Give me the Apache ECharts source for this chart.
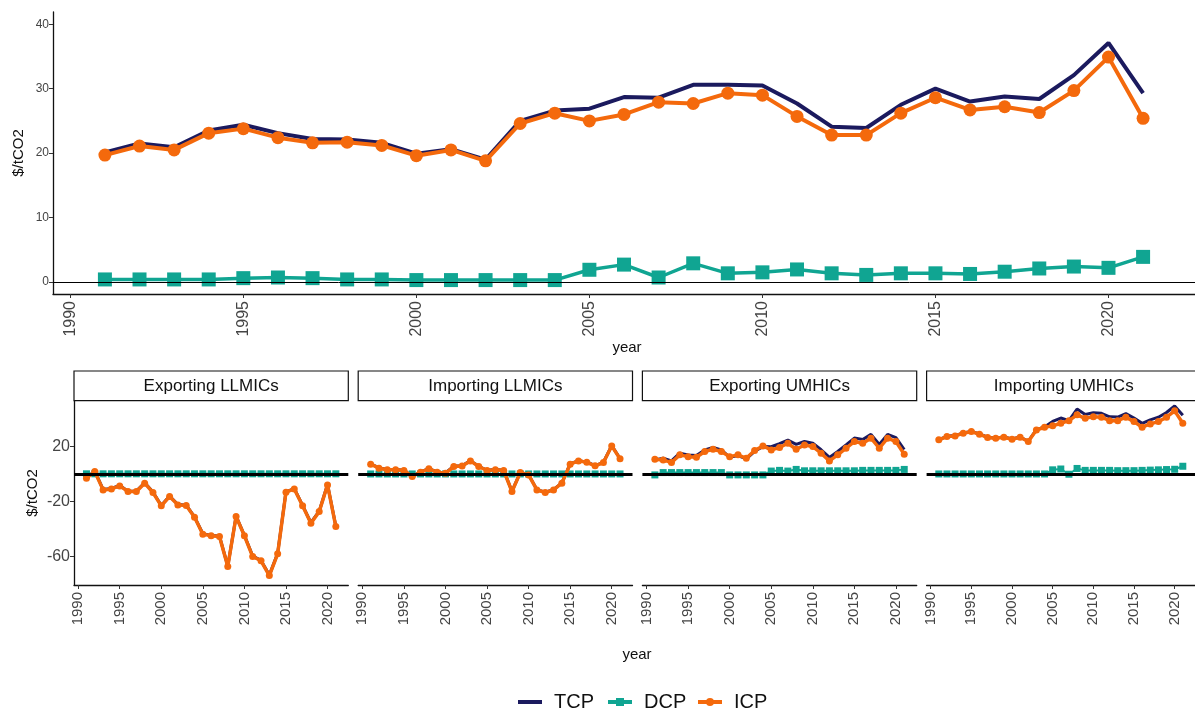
<!DOCTYPE html>
<html>
<head>
<meta charset="utf-8">
<script src="https://cdn.jsdelivr.net/npm/echarts@6/dist/echarts.min.js"></script>
<style>
html,body{margin:0;padding:0;background:#fff;}
#chart{width:1195px;height:711px;}
</style>
</head>
<body>
<div id="chart"></div>
<script>
// ---------- data ----------
const years = [1991,1992,1993,1994,1995,1996,1997,1998,1999,2000,2001,2002,2003,2004,2005,2006,2007,2008,2009,2010,2011,2012,2013,2014,2015,2016,2017,2018,2019,2020,2021];
const xTicks = [1990,1995,2000,2005,2010,2015,2020];
const yTicksTop = [0,10,20,30,40];
const yTicksBottom = [-60,-20,20];
const seriesNames = ['TCP','DCP','ICP'];
const panelTitles = ['Exporting LLMICs','Importing LLMICs','Exporting UMHICs','Importing UMHICs'];

// top panel (all)
const allTCP = [20.1,21.5,20.9,23.5,24.4,23.1,22.2,22.1,21.6,19.9,20.6,19.0,25.0,26.6,26.9,28.7,28.6,30.6,30.6,30.5,27.7,24.1,23.9,27.5,30.0,28.0,28.8,28.4,32.1,37.1,29.3];
const allDCP = [0.4,0.4,0.4,0.4,0.6,0.7,0.6,0.4,0.4,0.3,0.3,0.3,0.3,0.3,1.9,2.7,0.7,2.9,1.35,1.5,1.95,1.35,1.1,1.35,1.35,1.25,1.6,2.1,2.4,2.2,3.9];
const allICP = [19.7,21.1,20.5,23.1,23.8,22.4,21.6,21.7,21.2,19.6,20.5,18.8,24.6,26.2,25.0,26.0,27.9,27.7,29.3,29.0,25.7,22.8,22.8,26.2,28.6,26.7,27.2,26.3,29.7,34.9,25.4];

// Exporting LLMICs
const exLL_TCP = [-2.6,2.2,-11.1,-10.4,-8.2,-12.3,-12.3,-6.2,-13.0,-22.7,-15.9,-22.0,-22.5,-31.0,-43.3,-44.5,-45.0,-66.9,-30.5,-44.5,-59.6,-62.7,-73.4,-57.6,-12.8,-10.4,-22.7,-35.3,-26.9,-7.5,-37.8];
const exLL_DCP = [0.3,0.3,0.3,0.3,0.3,0.3,0.3,0.3,0.3,0.3,0.3,0.3,0.3,0.3,0.3,0.3,0.3,0.3,0.3,0.3,0.3,0.3,0.3,0.3,0.3,0.3,0.3,0.3,0.3,0.3,0.3];
const exLL_ICP = [-2.9,1.9,-11.4,-10.7,-8.5,-12.6,-12.6,-6.5,-13.3,-23.0,-16.2,-22.3,-22.8,-31.3,-43.6,-44.8,-45.3,-67.2,-30.8,-44.8,-59.9,-63.0,-73.7,-57.9,-13.1,-10.7,-23.0,-35.6,-27.2,-7.8,-38.1];

// Importing LLMICs
const imLL_TCP = [7.5,4.6,3.4,3.4,2.9,-1.5,1.7,4.1,1.7,0.9,5.8,6.2,9.9,5.8,2.9,3.4,2.9,-12.4,1.4,-0.3,-11.2,-13.1,-11.2,-6.3,7.5,9.9,8.9,6.3,8.7,20.8,11.4];
const imLL_DCP = [0.2,0.2,0.2,0.2,0.2,0.2,0.2,0.2,0.2,0.2,0.2,0.2,0.2,0.2,0.2,0.2,0.2,0.2,0.2,0.2,0.2,0.2,0.2,0.2,0.2,0.2,0.2,0.2,0.2,0.2,0.2];
const imLL_ICP = [7.3,4.4,3.2,3.2,2.7,-1.7,1.5,3.9,1.5,0.7,5.6,6.0,9.7,5.6,2.7,3.2,2.7,-12.6,1.2,-0.5,-11.4,-13.3,-11.4,-6.5,7.3,9.7,8.7,6.1,8.5,20.6,11.2];

// Exporting UMHICs
const exUM_TCP = [10.4,11.6,9.7,15.3,14.0,13.6,17.7,19.4,17.7,12.3,13.6,11.1,16.7,20.1,20.0,22.2,24.8,21.7,23.8,22.6,17.8,12.2,16.6,21.4,26.3,25.3,29.0,21.7,29.0,26.6,18.0];
const exUM_DCP = [-0.5,1.2,1.2,1.2,1.2,1.2,1.2,1.2,1.2,-0.5,-0.5,-0.5,-0.5,-0.5,2.3,2.8,2.3,3.5,2.5,2.5,2.5,2.5,2.5,2.5,2.5,2.8,2.8,2.8,2.8,2.8,3.5];
const exUM_ICP = [10.9,10.4,8.5,14.1,12.8,12.4,16.5,18.2,16.5,12.8,14.1,11.6,17.2,20.6,17.7,19.4,22.5,18.2,21.3,20.1,15.3,9.7,14.1,18.9,23.8,22.5,26.2,18.9,26.2,23.8,14.5];

// Importing UMHICs
const imUM_TCP = [25.2,27.6,28.1,30.0,31.2,29.3,26.9,26.4,27.1,25.7,27.1,24.0,32.4,34.4,38.4,40.9,39.0,47.4,43.5,44.7,44.3,41.8,41.6,44.1,40.9,37.0,39.6,41.5,44.9,49.7,42.9];
const imUM_DCP = [0.2,0.2,0.2,0.2,0.2,0.2,0.2,0.2,0.2,0.2,0.2,0.2,0.2,0.2,3.2,3.8,0.0,4.2,2.8,2.8,2.8,2.8,2.6,2.6,2.6,2.8,3.0,3.2,3.4,3.6,5.8];
const imUM_ICP = [25.0,27.4,27.9,29.8,31.0,29.1,26.7,26.2,26.9,25.5,26.9,23.8,32.2,34.2,35.2,37.1,39.0,43.2,40.7,41.9,41.5,39.0,39.0,41.5,38.3,34.2,36.6,38.3,41.5,46.1,37.1];

const panels = [
  [exLL_TCP, exLL_DCP, exLL_ICP],
  [imLL_TCP, imLL_DCP, imLL_ICP],
  [exUM_TCP, exUM_DCP, exUM_ICP],
  [imUM_TCP, imUM_DCP, imUM_ICP]
];

// ---------- styling / layout ----------
const C_TCP = '#1b1a5e', C_DCP = '#10a592', C_ICP = '#f4690c';
const FONT = 'Liberation Sans, Arial, sans-serif';
const LABEL_C = '#444';
const pairs = vals => years.map((y, i) => [y, vals[i]]);

const TOP = {left: 53, top: 12, width: 1148, height: 282};
const BOT = {left0: 74, step: 284.2, top: 400.7, width: 274.3, height: 184.3};

const grids = [{left: TOP.left, top: TOP.top, width: TOP.width, height: TOP.height}];
for (let i = 0; i < 4; i++) grids.push({left: BOT.left0 + i * BOT.step, top: BOT.top, width: BOT.width, height: BOT.height});

const axisLineStyle = {color: '#111', width: 1.3};
const xAxes = grids.map((g, i) => ({
  type: 'value', gridIndex: i, min: 1989.5, max: 2022.5,
  splitLine: {show: false},
  axisLine: {show: true, onZero: false, lineStyle: axisLineStyle},
  axisTick: {show: true, customValues: xTicks, length: 4, lineStyle: {color: '#333'}},
  axisLabel: {show: true, customValues: xTicks, rotate: 90, margin: i === 0 ? 7 : 7, fontSize: i === 0 ? 16 : 15,
              color: LABEL_C, fontFamily: FONT, formatter: v => String(v)}
}));
const yAxes = [{
  type: 'value', gridIndex: 0, min: -1.86, max: 41.9,
  splitLine: {show: false},
  axisLine: {show: true, onZero: false, lineStyle: axisLineStyle},
  axisTick: {show: true, customValues: yTicksTop, length: 4, lineStyle: {color: '#333'}},
  axisLabel: {show: true, customValues: yTicksTop, margin: 4, fontSize: 12, color: LABEL_C, fontFamily: FONT}
}];
for (let i = 0; i < 4; i++) {
  yAxes.push({
    type: 'value', gridIndex: i + 1, min: -80.6, max: 53.5,
    splitLine: {show: false},
    axisLine: {show: i === 0, onZero: false, lineStyle: axisLineStyle},
    axisTick: {show: i === 0, customValues: yTicksBottom, length: 4, lineStyle: {color: '#333'}},
    axisLabel: {show: i === 0, customValues: yTicksBottom, margin: 4, fontSize: 16, color: LABEL_C, fontFamily: FONT}
  });
}

function makeSeries(gi, tcp, dcp, icp, big) {
  const zeroLine = {
    silent: true, symbol: 'none', label: {show: false},
    lineStyle: {color: '#000', width: big ? 1 : 3, type: 'solid'},
    data: [{yAxis: 0}]
  };
  return [
    {name: seriesNames[0], type: 'line', xAxisIndex: gi, yAxisIndex: gi, data: pairs(tcp),
     showSymbol: false, symbol: 'none', z: 2,
     lineStyle: {color: C_TCP, width: big ? 4 : 3}, itemStyle: {color: C_TCP}},
    {name: seriesNames[1], type: 'line', xAxisIndex: gi, yAxisIndex: gi, data: pairs(dcp),
     symbol: 'rect', symbolSize: big ? 14 : 7, z: 3,
     lineStyle: {color: C_DCP, width: big ? 3.5 : 2}, itemStyle: {color: C_DCP},
     markLine: zeroLine},
    {name: seriesNames[2], type: 'line', xAxisIndex: gi, yAxisIndex: gi, data: pairs(icp),
     symbol: 'circle', symbolSize: big ? 13 : 7, z: 4,
     lineStyle: {color: C_ICP, width: big ? 4 : 3.5}, itemStyle: {color: C_ICP}}
  ];
}

let series = makeSeries(0, allTCP, allDCP, allICP, true);
panels.forEach((p, i) => { series = series.concat(makeSeries(i + 1, p[0], p[1], p[2], false)); });

const graphics = [];
// strip boxes
panelTitles.forEach((t, i) => {
  const x = BOT.left0 + i * BOT.step;
  graphics.push({type: 'rect', shape: {x: x, y: 371, width: BOT.width, height: 29.7},
    style: {fill: '#fff', stroke: '#111', lineWidth: 1.2}, z: 10});
  graphics.push({type: 'text', x: x + BOT.width / 2, y: 386.5,
    style: {text: t, fill: '#111', font: '17px ' + FONT, textAlign: 'center', textVerticalAlign: 'middle'}, z: 11});
});
// axis titles
graphics.push({type: 'text', x: 19, y: 153, rotation: Math.PI / 2,
  style: {text: '$/tCO2', fill: '#111', font: '15px ' + FONT, textAlign: 'center', textVerticalAlign: 'middle'}});
graphics.push({type: 'text', x: 33, y: 493, rotation: Math.PI / 2,
  style: {text: '$/tCO2', fill: '#111', font: '15px ' + FONT, textAlign: 'center', textVerticalAlign: 'middle'}});
graphics.push({type: 'text', x: 627, y: 348,
  style: {text: 'year', fill: '#111', font: '15px ' + FONT, textAlign: 'center', textVerticalAlign: 'middle'}});
graphics.push({type: 'text', x: 637, y: 655,
  style: {text: 'year', fill: '#111', font: '15px ' + FONT, textAlign: 'center', textVerticalAlign: 'middle'}});

// legend key (drawn as graphics to match the reference's key exactly)
const LEG_Y = 702;
const legendItems = [
  {name: seriesNames[0], color: C_TCP, x: 518, mark: null},
  {name: seriesNames[1], color: C_DCP, x: 608, mark: 'rect'},
  {name: seriesNames[2], color: C_ICP, x: 698, mark: 'circle'}
];
legendItems.forEach(it => {
  graphics.push({type: 'line', shape: {x1: it.x, y1: LEG_Y, x2: it.x + 24, y2: LEG_Y},
    style: {stroke: it.color, lineWidth: 4}});
  if (it.mark === 'rect') graphics.push({type: 'rect', shape: {x: it.x + 8, y: LEG_Y - 4, width: 8, height: 8}, style: {fill: it.color}});
  if (it.mark === 'circle') graphics.push({type: 'circle', shape: {cx: it.x + 12, cy: LEG_Y, r: 4}, style: {fill: it.color}});
  graphics.push({type: 'text', x: it.x + 36, y: LEG_Y,
    style: {text: it.name, fill: '#111', font: '20px ' + FONT, textAlign: 'left', textVerticalAlign: 'middle'}});
});

const chart = echarts.init(document.getElementById('chart'), null, {renderer: 'canvas'});
chart.setOption({
  animation: false,
  backgroundColor: '#fff',
  grid: grids,
  xAxis: xAxes,
  yAxis: yAxes,
  graphic: graphics,
  series: series
});
</script>
</body>
</html>
